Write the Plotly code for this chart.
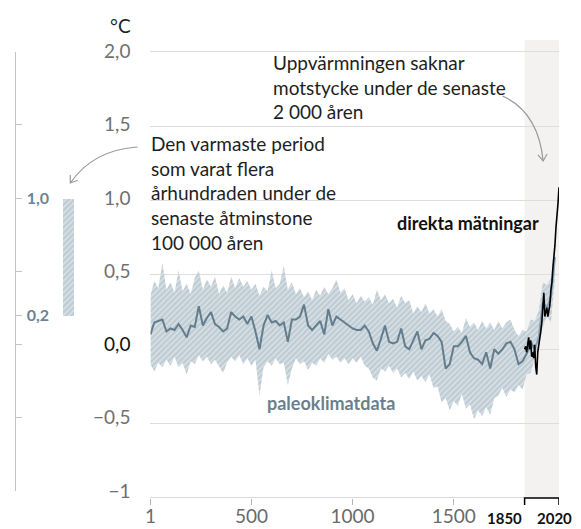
import math
import plotly.graph_objects as go

# ---------------- data ----------------
years = [1] + list(range(20, 2001, 20))

paleo_mean = [0.10, 0.18, 0.19, 0.20, 0.12, 0.14, 0.13, 0.17, 0.13, 0.08,
              0.16, 0.15, 0.29, 0.16, 0.21, 0.25, 0.17, 0.15, 0.12, 0.14,
              0.25, 0.22, 0.20, 0.22, 0.17, 0.22, 0.12, 0.00, 0.16, 0.23,
              0.18, 0.19, 0.16, 0.18, 0.05, 0.20, 0.20, 0.22, 0.30, 0.16,
              0.13, 0.16, 0.19, 0.10, 0.27, 0.16, 0.22, 0.20, 0.18, 0.16,
              0.14, 0.13, 0.13, 0.16, 0.12, 0.04, -0.01, 0.07, 0.16, 0.05,
              0.04, 0.05, 0.14, 0.02, 0.00, 0.06, 0.12, 0.00, 0.06, 0.07,
              0.11, 0.09, 0.05, -0.13, -0.10, 0.02, 0.02, 0.05, 0.09, -0.02,
              -0.06, -0.07, -0.10, -0.02, -0.13, 0.00, -0.03, 0.00, 0.04, 0.05,
              0.00, -0.10, -0.08, -0.03, 0.05, 0.00, 0.08, 0.32, 0.28, 0.35,
              0.62]

paleo_upper = [0.36, 0.46, 0.41, 0.58, 0.40, 0.45, 0.38, 0.53, 0.39, 0.44,
               0.37, 0.48, 0.53, 0.40, 0.47, 0.42, 0.49, 0.37, 0.43, 0.38,
               0.49, 0.41, 0.48, 0.42, 0.46, 0.40, 0.44, 0.36, 0.42, 0.39,
               0.53, 0.41, 0.44, 0.56, 0.40, 0.45, 0.37, 0.41, 0.35, 0.39,
               0.33, 0.40, 0.36, 0.42, 0.37, 0.41, 0.47, 0.38, 0.41, 0.33,
               0.37, 0.31, 0.36, 0.32, 0.35, 0.30, 0.40, 0.33, 0.37, 0.31,
               0.34, 0.28, 0.36, 0.31, 0.33, 0.24, 0.29, 0.25, 0.31, 0.24,
               0.27, 0.22, 0.27, 0.19, 0.17, 0.12, 0.15, 0.11, 0.21, 0.15,
               0.18, 0.13, 0.19, 0.14, 0.18, 0.13, 0.19, 0.14, 0.18, 0.20,
               0.13, 0.09, 0.13, 0.12, 0.20, 0.19, 0.26, 0.45, 0.43, 0.48,
               0.75]

paleo_lower = [-0.10, -0.15, -0.09, -0.12, -0.07, -0.11, -0.05, -0.12, -0.09, -0.17,
               -0.08, -0.10, -0.04, -0.08, -0.05, -0.10, -0.07, -0.12, -0.16, -0.09,
               -0.05, -0.08, -0.04, -0.10, -0.06, -0.11, -0.07, -0.31, -0.12, -0.08,
               -0.11, -0.06, -0.10, -0.09, -0.24, -0.13, -0.06, -0.10, -0.08, -0.14,
               -0.09, -0.11, -0.06, -0.09, -0.03, -0.07, -0.05, -0.09, -0.06, -0.10,
               -0.06, -0.09, -0.05, -0.11, -0.13, -0.19, -0.21, -0.13, -0.15, -0.11,
               -0.16, -0.13, -0.19, -0.16, -0.20, -0.15, -0.21, -0.18, -0.22, -0.17,
               -0.26, -0.25, -0.36, -0.33, -0.41, -0.35, -0.38, -0.30, -0.40, -0.37,
               -0.47, -0.41, -0.45, -0.39, -0.44, -0.33, -0.31, -0.26, -0.32, -0.27,
               -0.29, -0.24, -0.27, -0.17, -0.16, -0.06, 0.03, 0.15, 0.22, 0.18,
               0.48]

obs_years = [1850, 1855, 1860, 1865, 1870, 1875, 1880, 1885, 1890, 1895,
             1900, 1905, 1910, 1915, 1920, 1925, 1930, 1935, 1940, 1945,
             1950, 1955, 1960, 1965, 1970, 1975, 1980, 1985, 1990, 1995,
             2000, 2005, 2010, 2015, 2020]
obs_values = [0.00, 0.02, -0.02, 0.05, 0.08, 0.00, 0.06, -0.05, -0.02, -0.06,
              0.03, -0.12, -0.17, -0.02, 0.02, 0.08, 0.12, 0.18, 0.32, 0.38,
              0.22, 0.26, 0.28, 0.22, 0.26, 0.30, 0.40, 0.45, 0.55, 0.62,
              0.70, 0.82, 0.88, 0.98, 1.09]

warm_period = [0.2, 1.0]          # warmest multi-century period, range (°C)

x_tickvals = [1, 500, 1000, 1500]
x_ticktext = ["1", "500", "1000", "1500"]
y_tickvals = [-1, -0.5, 0, 0.5, 1, 1.5, 2]
y_ticktext = ["−1", "−0,5", "<span style='color:#111'>0,0</span>", "0,5", "1,0", "1,5", "2,0"]
left_tickvals = [-1, -0.5, 0, 0.2, 0.5, 1, 1.5, 2]
left_ticktext = ["", "", "", "<b>0,2</b>", "", "<b>1,0</b>", "", ""]

note_recent = ["Uppvärmningen saknar", "motstycke under de senaste", "2 000 åren"]
note_warm = ["Den varmaste period", "som varat flera", "århundraden under de",
             "senaste åtminstone", "100 000 åren"]

# ---------------- styling helpers ----------------
W, H = 581, 529
ML, MR, MT, MB = 0, 22, 37, 31
PW, PH = W - ML - MR, H - MT - MB
BOTTOM = H - MB


def px_x(p):
    return (p - ML) / PW


def px_y(p):
    return (BOTTOM - p) / PH


HATCH_BG = "#bfccd4"
MEAN_COL = "#647d8c"
MEAN_LIGHT = "#86a3b5"
GRID = "#dddddd"
AXIS_GRAY = "#b5b5b5"
FONT = "Lato"

split = years.index(1900)

fig = go.Figure()

fig.add_trace(go.Scatter(x=years, y=paleo_upper, mode="lines", line=dict(width=0),
                         hoverinfo="skip", showlegend=False))
fig.add_trace(go.Scatter(x=years, y=paleo_lower, mode="lines", line=dict(width=0),
                         fill="tonexty", fillcolor=HATCH_BG,
                         fillpattern=dict(shape="/", bgcolor=HATCH_BG, fgcolor="white",
                                          size=4, solidity=0.3),
                         hoverinfo="skip", showlegend=False))
fig.add_trace(go.Scatter(x=years[:split + 1], y=paleo_mean[:split + 1], mode="lines",
                         line=dict(color=MEAN_COL, width=2), showlegend=False))
fig.add_trace(go.Scatter(x=years[split:], y=paleo_mean[split:], mode="lines",
                         line=dict(color=MEAN_LIGHT, width=2), showlegend=False))
fig.add_trace(go.Scatter(x=obs_years, y=obs_values, mode="lines",
                         line=dict(color="black", width=1.6), showlegend=False))
# invisible helper so the label axis is drawn
fig.add_trace(go.Scatter(x=[1], y=[0], yaxis="y3", mode="markers",
                         marker=dict(opacity=0), hoverinfo="skip", showlegend=False))
# warm-period bar on the left scale
fig.add_trace(go.Bar(x=[53], y=[warm_period[1] - warm_period[0]], base=[warm_period[0]],
                     width=12, xaxis="x2", yaxis="y2",
                     marker=dict(color=HATCH_BG, line=dict(width=0),
                                 pattern=dict(shape="/", bgcolor=HATCH_BG, fgcolor="white",
                                              size=4, solidity=0.3)),
                     hoverinfo="skip", showlegend=False))

y2_dom = [px_y(491), px_y(51.5)]

# label axis uses the slightly compressed scale of the left ruler
k = (491 - 51.5) / 3.0
lo = -1 - (BOTTOM - 491) / k
hi = lo + PH / k

fig.update_layout(
    width=W, height=H,
    margin=dict(l=ML, r=MR, t=MT, b=MB),
    plot_bgcolor="white", paper_bgcolor="white",
    font=dict(family=FONT, size=19, color="#707070"),
    showlegend=False,
    xaxis=dict(domain=[px_x(146), 1], range=[1, 2020], tickvals=x_tickvals,
               ticktext=x_ticktext, ticks="outside", ticklen=6, tickcolor=AXIS_GRAY,
               showgrid=False, zeroline=False, showline=False, ticklabelstandoff=-5,
               tickfont=dict(size=19, color="#6a6a6a")),
    yaxis=dict(range=[-1, 2.1], tickvals=[-0.5, 0, 0.5, 1, 1.5, 2], showgrid=True,
               gridcolor=GRID, gridwidth=1, showticklabels=False, zeroline=False,
               showline=False, ticks=""),
    yaxis3=dict(overlaying="y", anchor="x", side="left", range=[lo, hi],
                showgrid=False, zeroline=False, showline=False, ticks="",
                tickvals=y_tickvals, ticktext=y_ticktext, ticklabelstandoff=19,
                tickfont=dict(size=19, color="#707070")),
    xaxis2=dict(domain=[px_x(10), px_x(140)], range=[0, 130], visible=False),
    yaxis2=dict(domain=y2_dom, range=[-1, 2], anchor="x2", side="left",
                showline=True, linecolor="#c4c4c4", linewidth=1,
                ticks="inside", ticklen=6, tickcolor="#c4c4c4", tickwidth=1,
                tickvals=left_tickvals, ticktext=left_ticktext,
                ticklabelposition="inside", ticklabelstandoff=5,
                tickfont=dict(family=FONT, size=16, color="#6b8494"),
                showgrid=False, zeroline=False),
    bargap=0,
)

shapes = []
# shaded observation period
shapes.append(dict(type="rect", xref="x", yref="y", x0=1850, x1=2020, y0=-1, y1=2.08,
                   fillcolor="#f3f2f0", line=dict(width=0), layer="below"))
# gray x axis line
shapes.append(dict(type="line", xref="x", yref="y", x0=1, x1=1850, y0=-1, y1=-1,
                   line=dict(color=AXIS_GRAY, width=1)))
# black bracket 1850-2020
yb0 = px_y(BOTTOM)
yb1 = px_y(BOTTOM + 7)
shapes.append(dict(type="path", xref="x", yref="paper",
                   path=f"M 1850,{yb1} L 1850,{yb0} L 2020,{yb0} L 2020,{yb1}",
                   line=dict(color="black", width=1.5)))


def curved_arrow(p0, c, p1, color="#9a9a9a"):
    path = (f"M {px_x(p0[0])},{px_y(p0[1])} Q {px_x(c[0])},{px_y(c[1])} "
            f"{px_x(p1[0])},{px_y(p1[1])}")
    out = [dict(type="path", xref="paper", yref="paper", path=path,
                line=dict(color=color, width=1.2))]
    dx, dy = p1[0] - c[0], p1[1] - c[1]
    n = math.hypot(dx, dy)
    ux, uy = -dx / n, -dy / n
    L = 8
    arms = []
    for ang in (35, -35):
        a = math.radians(ang)
        rx = ux * math.cos(a) - uy * math.sin(a)
        ry = ux * math.sin(a) + uy * math.cos(a)
        arms.append((p1[0] + rx * L, p1[1] + ry * L))
    hp = (f"M {px_x(arms[0][0])},{px_y(arms[0][1])} L {px_x(p1[0])},{px_y(p1[1])} "
          f"L {px_x(arms[1][0])},{px_y(arms[1][1])}")
    out.append(dict(type="path", xref="paper", yref="paper", path=hp,
                    line=dict(color=color, width=1.2)))
    return out


shapes += curved_arrow((133, 147), (88, 150), (65, 183))
shapes += curved_arrow((502, 96), (538, 112), (543, 161))
fig.update_layout(shapes=shapes)

TXT = "#1e1e1e"
ann = []
ann.append(dict(xref="paper", yref="paper", x=px_x(128), y=px_y(26), xanchor="right",
                yanchor="middle", text="°C", showarrow=False,
                font=dict(size=19, color=TXT)))
ann.append(dict(xref="paper", yref="paper", x=px_x(268), y=px_y(49),
                xanchor="left", yanchor="top", align="left", showarrow=False,
                text="<br>".join(note_recent), font=dict(size=19, color=TXT)))
ann.append(dict(xref="paper", yref="paper", x=px_x(145), y=px_y(130),
                xanchor="left", yanchor="top", align="left", showarrow=False,
                text="<br>".join(note_warm), font=dict(size=19, color=TXT)))
ann.append(dict(xref="paper", yref="paper", x=px_x(541), y=px_y(223), xanchor="right",
                yanchor="middle", showarrow=False, text="<b>direkta mätningar</b>",
                font=dict(size=18, color="#111")))
ann.append(dict(xref="paper", yref="paper", x=px_x(329), y=px_y(403), xanchor="center",
                yanchor="middle", showarrow=False, text="<b>paleoklimatdata</b>",
                font=dict(size=18, color="#6b7f8b")))
ann.append(dict(xref="x", yref="paper", x=1850, y=px_y(518), xanchor="right",
                yanchor="middle", xshift=-1, showarrow=False, text="<b>1850</b>",
                font=dict(size=15, color="#111")))
ann.append(dict(xref="x", yref="paper", x=2020, y=px_y(518), xanchor="center",
                yanchor="middle", xshift=-5, showarrow=False, text="<b>2020</b>",
                font=dict(size=15, color="#111")))
fig.update_layout(annotations=ann)

fig.write_html("out.html")
